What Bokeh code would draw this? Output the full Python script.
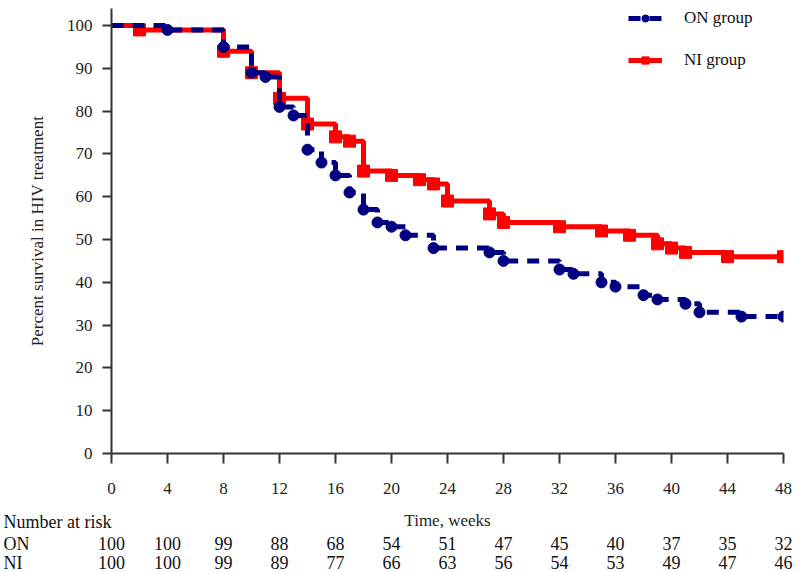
from bokeh.plotting import figure
from bokeh.layouts import column
from bokeh.models import Range1d, FixedTicker, Legend, LegendItem
from bokeh.core.properties import value
from bokeh.embed import file_html
from bokeh.resources import INLINE

# ---- data ----
weeks_on = [0, 4, 8, 10, 11, 12, 13, 14, 15, 16, 17, 18, 19, 20, 21, 23,
            27, 28, 32, 33, 35, 36, 38, 39, 41, 42, 45, 48]
surv_on = [100, 99, 95, 89, 88, 81, 79, 71, 68, 65, 61, 57, 54, 53, 51, 48,
           47, 45, 43, 42, 40, 39, 37, 36, 35, 33, 32, 32]

weeks_ni = [0, 2, 8, 10, 12, 14, 16, 17, 18, 20, 22, 23, 24, 27, 28, 32,
            35, 37, 39, 40, 41, 44, 48]
surv_ni = [100, 99, 94, 89, 83, 77, 74, 73, 66, 65, 64, 63, 59, 56, 54, 53,
           52, 51, 49, 48, 47, 46, 46]

risk_weeks = [0, 4, 8, 12, 16, 20, 24, 28, 32, 36, 40, 44, 48]
risk_on = [100, 100, 99, 88, 68, 54, 51, 47, 45, 40, 37, 35, 32]
risk_ni = [100, 100, 99, 89, 77, 66, 63, 56, 54, 53, 49, 47, 46]
y_ticks = [0, 10, 20, 30, 40, 50, 60, 70, 80, 90, 100]

group_labels = ["ON group", "NI group"]
row_labels = ["ON", "NI"]

# ---- layout (page pixels) ----
W = 800
H_MAIN = 505
H_TABLE = 67
LEFT, RIGHT, TOP = 111, 17, 8
FRAME_BOTTOM = 453
X0, X1, Y0, Y1 = 0, 48, 0, 104
XPX = (W - LEFT - RIGHT) / (X1 - X0)


def xdata(px):
    return X0 + (px - LEFT) / XPX


def ytab(py):
    # page y pixel -> table-figure data y
    return H_TABLE - (py - H_MAIN)


FONT = "Liberation Serif"
BLUE = "#000080"
RED = "#ff0000"
AX = "#333333"
TXT = "#111111"

p = figure(width=W, height=H_MAIN, x_range=Range1d(X0, X1), y_range=Range1d(Y0, Y1),
           output_backend="svg", toolbar_location=None,
           min_border_left=LEFT, min_border_right=RIGHT,
           min_border_top=TOP, min_border_bottom=H_MAIN - FRAME_BOTTOM)
p.frame_align = False
p.outline_line_color = None
p.xgrid.visible = False
p.ygrid.visible = False

ni_line = p.step(weeks_ni, surv_ni, mode="after", line_color=RED, line_width=5)
ni_pts = p.scatter(weeks_ni[1:], surv_ni[1:], marker="square", size=12,
                   fill_color=RED, line_color=RED)
on_line = p.step(weeks_on, surv_on, mode="after", line_color=BLUE, line_width=5,
                 line_dash="12 9")
on_pts = p.scatter(weeks_on[1:], surv_on[1:], marker="circle", size=11,
                   fill_color=BLUE, line_color=BLUE)

legend = Legend(items=[LegendItem(label=group_labels[0], renderers=[on_line, on_pts]),
                       LegendItem(label=group_labels[1], renderers=[ni_line, ni_pts])],
                location="top_right", margin=0, padding=0, spacing=22,
                glyph_width=34, glyph_height=18, label_height=18, label_width=99,
                label_standoff=22, border_line_color=None, background_fill_alpha=0,
                label_text_font=FONT, label_text_font_size="17px",
                label_text_color=TXT)
p.add_layout(legend, "center")

for ax in (p.xaxis, p.yaxis):
    ax.axis_line_width = 2
    ax.axis_line_color = AX
    ax.major_tick_line_width = 2
    ax.major_tick_line_color = AX
    ax.minor_tick_line_color = None
    ax.major_tick_in = 0
    ax.major_label_text_font = FONT
    ax.major_label_text_font_size = "17px"
    ax.major_label_text_color = "#222222"

p.xaxis.ticker = FixedTicker(ticks=risk_weeks)
p.xaxis.major_tick_out = 10
p.xaxis.major_label_standoff = 19

p.yaxis.ticker = FixedTicker(ticks=y_ticks)
p.yaxis.major_tick_out = 9
p.yaxis.major_label_standoff = 10
p.yaxis.axis_label = "Percent survival in HIV treatment"
p.yaxis.axis_label_text_font = FONT
p.yaxis.axis_label_text_font_size = "17px"
p.yaxis.axis_label_text_font_style = "normal"
p.yaxis.axis_label_text_color = "#222222"
p.yaxis.axis_label_standoff = 17

# ---- number-at-risk table (second figure, same x mapping, full-width frame) ----
t = figure(width=W, height=H_TABLE, x_range=Range1d(xdata(0), xdata(W)),
           y_range=Range1d(0, H_TABLE), output_backend="svg", toolbar_location=None,
           x_axis_location=None, y_axis_location=None,
           min_border=0, min_border_left=0, min_border_right=0,
           min_border_top=0, min_border_bottom=0)
t.frame_align = False
t.xgrid.visible = False
t.ygrid.visible = False
t.outline_line_color = None

t.text(x=[24], y=[ytab(520)], text=["Time, weeks"], text_align="center",
       text_baseline="middle", text_font=value(FONT), text_font_size="17px",
       text_color="#222222")
t.text(x=[xdata(3)], y=[ytab(521)], text=["Number at risk"], text_align="left",
       text_baseline="middle", text_font=value(FONT), text_font_size="18px",
       text_color=TXT)

row_py = [543, 562]
for lab, vals, py in zip(row_labels, [risk_on, risk_ni], row_py):
    t.text(x=[xdata(3)], y=[ytab(py)], text=[lab], text_align="left",
           text_baseline="middle", text_font=value(FONT), text_font_size="18px",
           text_color=TXT)
    t.text(x=risk_weeks, y=[ytab(py)] * len(risk_weeks), text=[str(v) for v in vals],
           text_align="center", text_baseline="middle", text_font=value(FONT),
           text_font_size="18px", text_color=TXT)

layout = column(p, t, spacing=0)
open("out.html", "w").write(file_html(layout, INLINE))
